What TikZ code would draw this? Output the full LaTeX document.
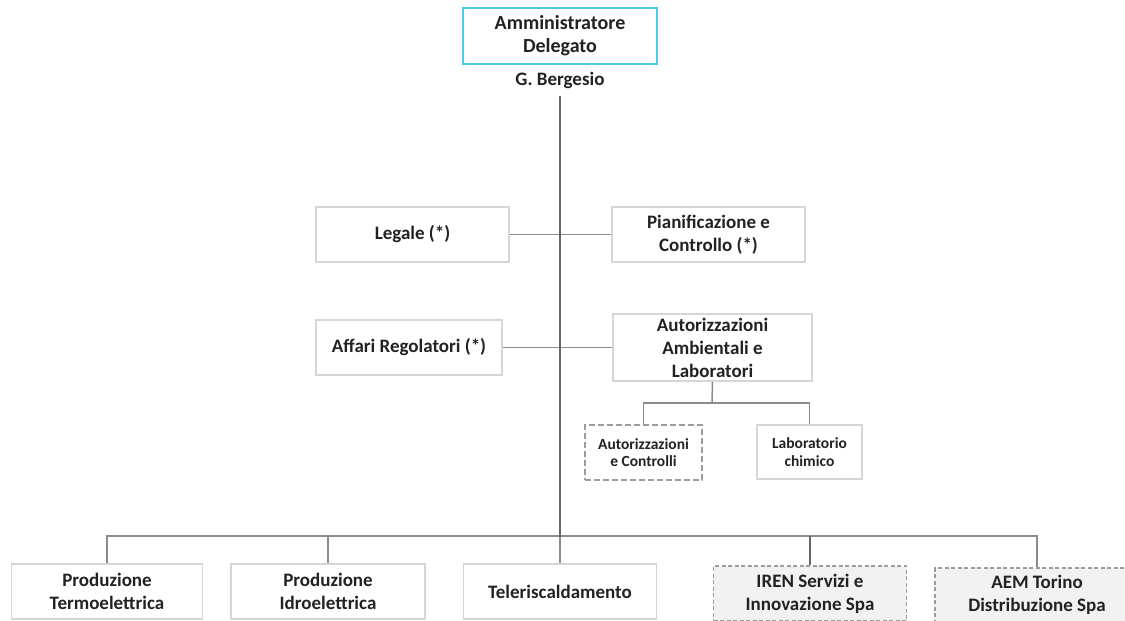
\documentclass[tikz,border=0pt]{standalone}
\usepackage{fontspec}
\setmainfont{Carlito}
\usetikzlibrary{calc}
\definecolor{boxgray}{HTML}{D6D6D6}
\definecolor{dashgray}{HTML}{9C9C9C}
\definecolor{dashfill}{HTML}{F2F2F2}
\definecolor{trunkgray}{HTML}{666666}
\definecolor{linegray}{HTML}{8C8C8C}
\definecolor{topcyan}{HTML}{4CC9EE}
\definecolor{txt}{HTML}{222222}
\begin{document}
\begin{tikzpicture}[x=1pt,y=-1pt,
  box/.style={draw=boxgray,line width=1.8pt,fill=white,align=center,inner sep=0pt,
    font=\fontsize{19}{23}\selectfont\bfseries,text=txt},
  dbox/.style={box,draw=dashgray,line width=1.3pt,dash pattern=on 4pt off 2.5pt,fill=dashfill},
  subbox/.style={box,font=\fontsize{15.5}{17.5}\selectfont\bfseries},
  dsubbox/.style={subbox,draw=dashgray,line width=1.3pt,dash pattern=on 6pt off 3pt,fill=white},
  topbox/.style={box,draw=topcyan,line width=2pt,font=\fontsize{20}{23}\selectfont\bfseries},
  conn/.style={draw=linegray,line width=1.5pt},
  trunk/.style={draw=trunkgray,line width=2.4pt},
  lbl/.style={font=\fontsize{19}{23}\selectfont\bfseries,text=txt,inner sep=0pt}]
\useasboundingbox (0,0) rectangle (1125,621);
\fill[white] (0,0) rectangle (1125,621);

\node[topbox,minimum width=194pt,minimum height=56pt] (ad) at (560,36) {Amministratore\\Delegato};
\node[lbl] (berg) at (560,80) {G. Bergesio};
\coordinate (trunktop) at (560,96);
\coordinate (trunkbot) at (560,537);

\node[box,minimum width=193pt,minimum height=55pt] (legale) at (412.5,234.5) {Legale (*)};
\node[box,minimum width=193pt,minimum height=55pt] (pian) at (708.5,234.5) {Pianificazione e\\Controllo (*)};

\node[box,minimum width=186pt,minimum height=55pt] (affari) at (409,347.5) {Affari Regolatori (*)};
\node[box,minimum width=199pt,minimum height=67pt] (autamb) at (712.5,347.5) {Autorizzazioni\\Ambientali e\\Laboratori};

\node[dsubbox,minimum width=117pt,minimum height=55pt] (autctrl) at (643.5,452.5) {Autorizzazioni\\e Controlli};
\node[subbox,minimum width=105pt,minimum height=54pt] (lab) at (809.5,452) {Laboratorio\\chimico};

\node[box,minimum width=191pt,minimum height=55pt] (termo) at (107,591.5) {Produzione\\Termoelettrica};
\node[box,minimum width=194pt,minimum height=55pt] (idro) at (328,591.5) {Produzione\\Idroelettrica};
\node[box,minimum width=193pt,minimum height=55pt] (tele) at (560,591.5) {Teleriscaldamento};
\node[dbox,minimum width=193pt,minimum height=55pt] (iren) at (810,593.5) {IREN Servizi e\\Innovazione Spa};
\node[dbox,minimum width=204pt,minimum height=54pt] (aem) at (1037,595) {AEM Torino\\Distribuzione Spa};

% connectors
\draw[conn] (legale.east) -- (pian.west);
\draw[conn] (affari.east) -- (autamb.west);
\coordinate (subbus) at (712,403);
\draw[conn] (autamb.south) -- (subbus);
\draw[conn] (autctrl.north) |- (subbus) -| (lab.north);

\draw[conn] (termo.north) -- ++(0,-27) -| (aem.north);
\draw[conn] (idro.north) -- ++(0,-27);
\draw[conn] (tele.north) -- (trunkbot);
\draw[trunk] (iren.north) -- ++(0,-29);
\draw[trunk] (trunktop) -- (trunkbot);
\end{tikzpicture}
\end{document}
